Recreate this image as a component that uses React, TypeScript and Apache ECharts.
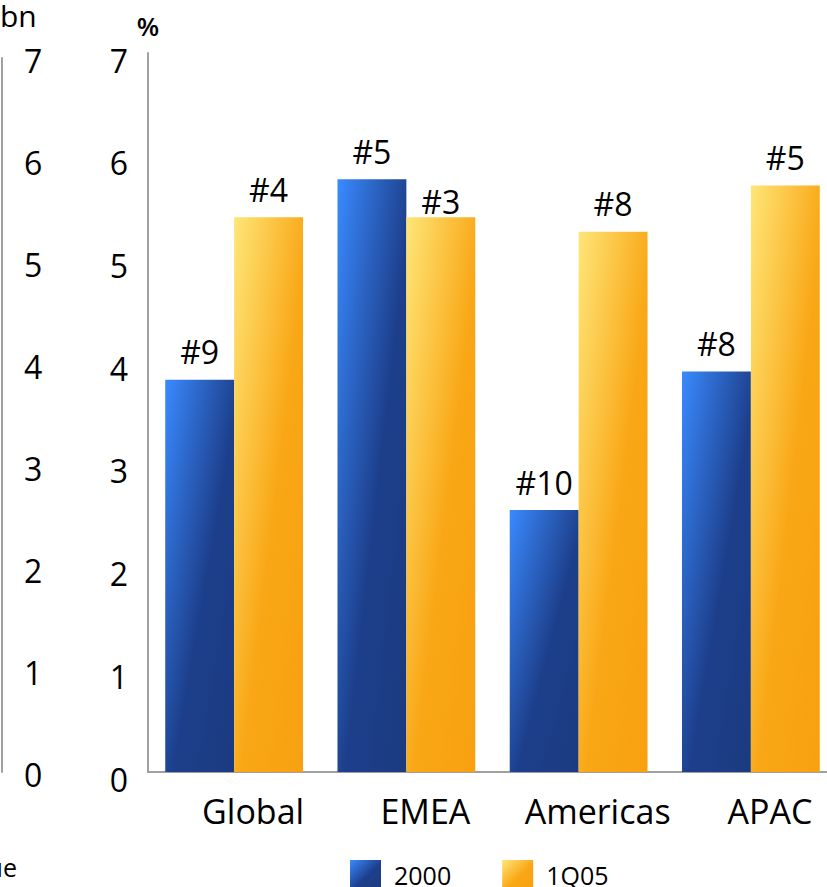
import React, { useEffect, useRef } from "react";
import * as echarts from "echarts";

const categories = ["Global", "EMEA", "Americas", "APAC"];
const seriesNames = ["2000", "1Q05"];
const values2000 = [3.82, 5.77, 2.55, 3.9];
const values1Q05 = [5.4, 5.4, 5.26, 5.71];
const ranks2000 = ["#9", "#5", "#10", "#8"];
const ranks1Q05 = ["#4", "#3", "#8", "#5"];
const tickMin = 0;
const tickMax = 7;
const tickStep = 1;

const FONT = "Open Sans";

const blueGrad = new echarts.graphic.LinearGradient(0, 0, 1, 1, [
  { offset: 0, color: "#3a8aff" },
  { offset: 0.55, color: "#1d3f8b" },
  { offset: 1, color: "#1b3a80" },
]);
const yellowGrad = new echarts.graphic.LinearGradient(0, 0, 1, 1, [
  { offset: 0, color: "#fee678" },
  { offset: 0.55, color: "#f9a716" },
  { offset: 1, color: "#f8a010" },
]);

export default function App() {
  const ref = useRef<HTMLDivElement>(null);
  useEffect(() => {
    if (!ref.current) return;
    const chart = echarts.init(ref.current, null, { renderer: "svg" });
    const mk = (vals: number[], ranks: string[], special: Record<number, number>) =>
      vals.map((v, i) => ({
        value: v,
        label: { formatter: ranks[i], distance: special[i] ?? 12 },
      }));
    const labelStyle = {
      show: true,
      position: "top" as const,
      fontFamily: FONT,
      fontSize: 32,
      color: "#000",
    };
    chart.setOption({
      animation: false,
      textStyle: { fontFamily: FONT },
      grid: [
        { left: 148, top: 53, width: 689, height: 719 },
        { left: 1, top: 53, width: 1, height: 719 },
      ],
      legend: {
        left: 345,
        top: 855,
        itemWidth: 31,
        itemHeight: 30,
        itemGap: 51,
        icon: "rect",
        textStyle: { fontFamily: FONT, fontSize: 25, color: "#000", padding: [0, 0, 0, 8] },
        data: seriesNames,
      },
      xAxis: [
        {
          type: "category",
          gridIndex: 0,
          data: categories,
          axisLine: { lineStyle: { color: "#a0a0a0", width: 2 } },
          axisTick: { show: false },
          axisLabel: {
            interval: 0,
            fontFamily: FONT,
            fontSize: 34,
            color: "#000",
            margin: 22,
            padding: [0, 0, 0, 38],
          },
        },
        { type: "value", gridIndex: 1, show: false },
      ],
      yAxis: [
        {
          type: "value",
          gridIndex: 0,
          min: tickMin,
          max: tickMax,
          interval: tickStep,
          name: "%",
          nameLocation: "end",
          nameGap: 14,
          nameTextStyle: { fontFamily: FONT, fontSize: 26, color: "#000", fontWeight: 600, align: "center" },
          axisLine: { show: true, lineStyle: { color: "#a0a0a0", width: 2 } },
          axisTick: { show: false },
          splitLine: { show: false },
          axisLabel: {
            fontFamily: FONT,
            fontSize: 32,
            color: "#000",
            margin: 20,
            verticalAlign: "top",
            lineHeight: 14,
          },
        },
        {
          type: "value",
          gridIndex: 1,
          min: tickMin,
          max: tickMax,
          interval: tickStep,
          name: "bn",
          nameLocation: "end",
          nameGap: 28,
          nameTextStyle: { fontFamily: FONT, fontSize: 30, color: "#000", align: "left", padding: [0, 0, 0, -2] },
          axisLine: { show: true, lineStyle: { color: "#a0a0a0", width: 2 } },
          axisTick: { show: false },
          splitLine: { show: false },
          axisLabel: {
            inside: true,
            fontFamily: FONT,
            fontSize: 32,
            color: "#000",
            margin: 22,
            verticalAlign: "top",
            lineHeight: 4,
          },
        },
      ],
      series: [
        {
          name: seriesNames[0],
          type: "bar",
          xAxisIndex: 0,
          yAxisIndex: 0,
          barGap: "0%",
          barCategoryGap: "20%",
          itemStyle: { color: blueGrad },
          label: labelStyle,
          data: mk(values2000, ranks2000, {}),
        },
        {
          name: seriesNames[1],
          type: "bar",
          xAxisIndex: 0,
          yAxisIndex: 0,
          barGap: "0%",
          barCategoryGap: "20%",
          itemStyle: { color: yellowGrad },
          label: labelStyle,
          data: mk(values1Q05, ranks1Q05, { 1: 0 }),
        },
      ],
      graphic: [
        {
          type: "text",
          x: 17,
          y: 854,
          style: { text: "Revenue", fontFamily: FONT, fontSize: 25, fill: "#000", align: "right" },
        },
      ],
    });
    return () => chart.dispose();
  }, []);
  return (
    <div style={{ position: "fixed", left: 0, top: 0, width: 827, height: 887, overflow: "hidden", background: "#fff" }}>
      <div ref={ref} style={{ width: 860, height: 887 }} />
    </div>
  );
}
